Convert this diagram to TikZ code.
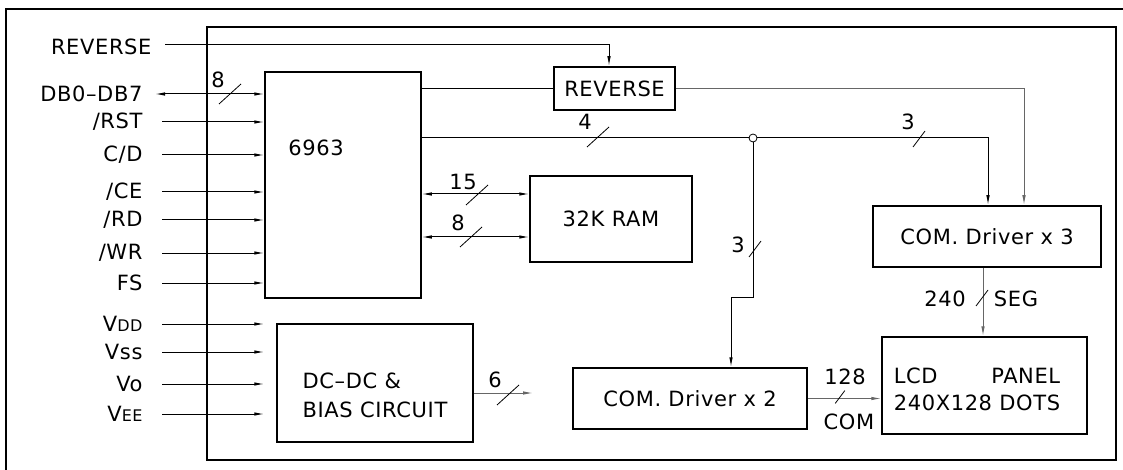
\documentclass[tikz,border=0pt]{standalone}
\usepackage{fontspec}
\setmainfont{DejaVu Sans}[LetterSpace=3]
\usetikzlibrary{arrows.meta}

\newcommand{\lowcap}[1]{{\fontsize{16}{17}\selectfont #1}}
\newlength\lcdw

\tikzset{
	blk/.style={draw, line width=1.5pt, inner sep=0pt},
	sig/.style={line width=1pt},
	gry/.style={line width=1pt, draw=black!60},
	bus/.pic={\draw[line width=0.8pt] (-11,10) -- (11,-10);},
	sbus/.pic={\draw[line width=0.8pt] (-6,8) -- (6,-8);},
	>={Latex[length=10pt,width=3.5pt]}
}

\begin{document}
\begin{tikzpicture}[x=1pt, y=-1pt, every node/.style={font=\fontsize{21}{25}\selectfont}]
	\useasboundingbox (0,0) rectangle (1123,470);
	% frames
	\draw[line width=1.5pt] (6,470) -- (6,9) -- (1123,9);
	\draw[line width=1.5pt] (207,27) rectangle (1116,460);

	% blocks
	\node[blk, minimum width=156pt, minimum height=226pt] (ctrl) at (343,185) {};
	\node (ctrltxt) at (316,148) {6963};
	\node[blk, minimum width=121pt, minimum height=43pt] (rev) at (614.5,88.5) {REVERSE};
	\node[blk, minimum width=162pt, minimum height=86pt] (ram) at (611,219) {32K RAM};
	\node[blk, minimum width=228pt, minimum height=61pt] (drv3) at (987,236.5) {COM. Driver x 3};
	\node[blk, minimum width=234pt, minimum height=61pt] (drv2) at (690,398.5) {COM. Driver x 2};
	\node[blk, minimum width=196pt, minimum height=118pt] (dcdc) at (375,383) {};
	\node[align=left, font=\fontsize{21}{29}\selectfont] (dcdctxt) at (375,395) {DC--DC \&\\BIAS CIRCUIT};
	\node[blk, minimum width=205pt, minimum height=97pt] (panel) at (984.5,385.5) {};
	\node[align=left, font=\fontsize{21}{27}\selectfont] (paneltxt) at (977,389.5)
		{\settowidth{\lcdw}{240X128 DOTS}\makebox[\lcdw][s]{LCD\hfill PANEL}\\240X128 DOTS};

	% interface pins
	\node[anchor=east] (lrev) at (155,47) {REVERSE};
	\coordinate (srev) at (165,45);
	\draw[sig,->] (srev) -| ([xshift=-5.5pt]rev.north);
	\node[anchor=east] (ldb) at (146,94) {DB0--DB7};
	\coordinate (sdb) at (155,94);
	\draw[sig,<->] (sdb) -- (sdb -| ctrl.west);
	\pic at (230,94) {bus};
	\node (ndb) at (218,80) {8};
	\foreach \y/\n/\t in {122/rst/{/RST},155/cd/{C/D},192/ce/{/CE},220/rd/{/RD},253/wr/{/WR},283/fs/{FS},
		324/vdd/{V\lowcap{DD}},352/vss/{Vss},384/vo/{Vo},414/vee/{V\lowcap{EE}}}{
		\node[anchor=east] (l\n) at (146,\y) {\t};
		\coordinate (s\n) at (162,\y);
		\draw[sig,->] (s\n) -- (s\n -| ctrl.west);
	}

	% controller to RAM
	\draw[sig,<->] (ctrl.east |- 0,194) -- ([yshift=25pt]ram.west);
	\pic at (477,195) {bus};
	\node (n15) at (463,182) {15};
	\draw[sig,<->] (ctrl.east |- 0,237) -- ([yshift=-18pt]ram.west);
	\pic at (471,237) {bus};
	\node (n8) at (458,223) {8};

	% reverse path
	\draw[sig] (ctrl.east |- rev.west) -- (rev.west);
	\draw[gry,->] (rev.east) -| ([xshift=37pt]drv3.north);

	% common lines
	\node[circle, draw, line width=0.8pt, inner sep=0pt, minimum size=8pt] (jn) at (753,138) {};
	\coordinate (kink) at (731,297);
	\draw[sig] (ctrl.east |- jn) -- (jn.west);
	\pic at (598,137) {bus};
	\node (n4) at (585,122) {4};
	\draw[sig,->] (jn.east) -| ([xshift=1pt]drv3.north);
	\pic at (919,139) {sbus};
	\node (n3a) at (908,122) {3};
	\draw[sig,->] (jn.south) |- (kink) -- (kink |- drv2.north);
	\pic at (755,249) {sbus};
	\node (n3b) at (738,245) {3};

	% drivers to panel
	\coordinate (segtop) at ([xshift=-4pt]drv3.south);
	\draw[gry,->] (segtop) -- (segtop |- panel.north);
	\pic at (982,298) {sbus};
	\node (n240) at (945,299) {240};
	\node (nseg) at (1016,299) {SEG};
	\draw[gry,->] (drv2.east) -- (drv2.east -| panel.west);
	\pic[scale=0.8] at (840,397) {sbus};
	\node (n128) at (845,377) {128};
	\node (ncom) at (849,422) {COM};

	% bias outputs
	\coordinate (dcout) at (533,393);
	\draw[gry,->] (dcdc.east |- dcout) -- (dcout);
	\pic at (508,395) {bus};
	\node (n6) at (495,380) {6};
\end{tikzpicture}
\end{document}
